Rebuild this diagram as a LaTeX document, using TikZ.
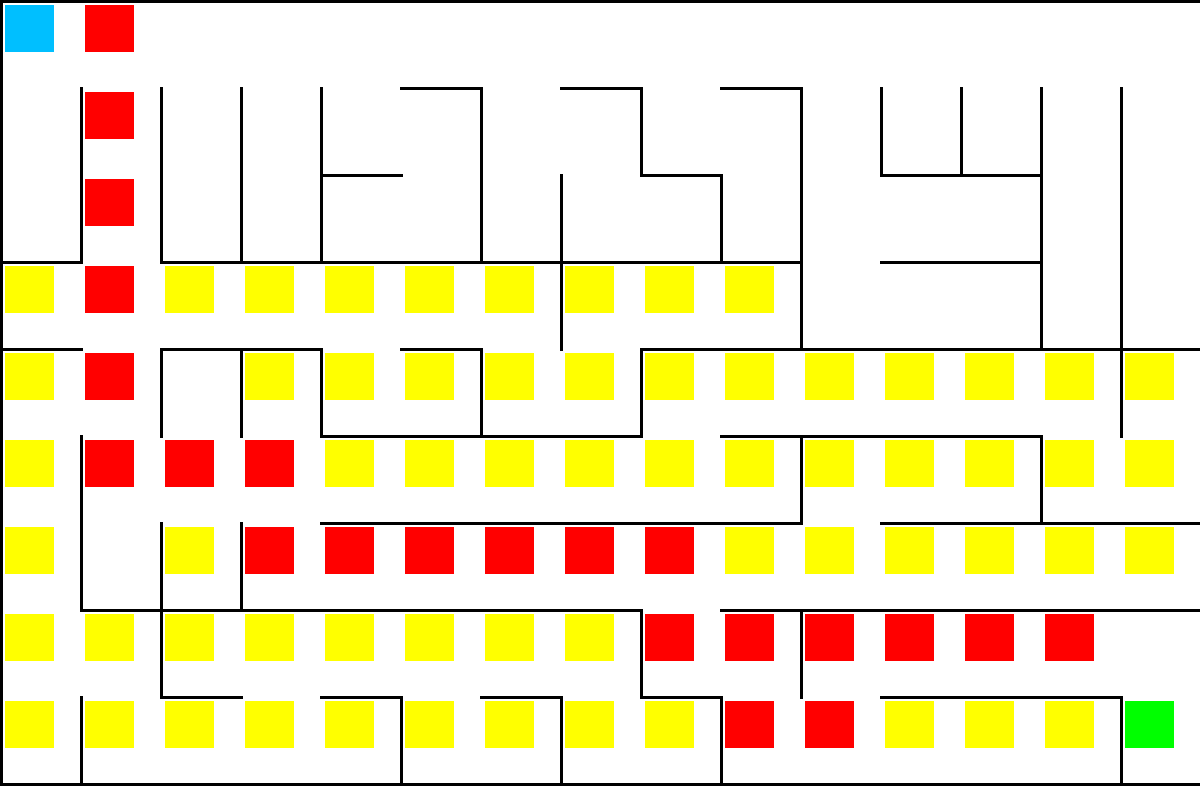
\documentclass[tikz,border=0pt]{standalone}
\usepackage{xcolor}
\usepackage{tikz}
\usetikzlibrary{calc}

\definecolor{startblue}{HTML}{00BFFF}
\definecolor{goalgreen}{HTML}{00FF00}
\definecolor{pathred}{HTML}{FF0000}
\definecolor{seenyellow}{HTML}{FFFF00}

% one coloured square inside grid cell (col,row)
\newcommand{\mazecell}[3]{\fill[#1] ($(#2,#3)+(5pt,-5pt)$) rectangle ++(49pt,-47pt);}

\begin{document}
\begin{tikzpicture}[
    x=80pt, y=-87pt,
    wall/.style={draw=black, line width=3pt, line cap=rect},
    cstart/.style={fill=startblue},
    cgoal/.style={fill=goalgreen},
    cpath/.style={fill=pathred},
    cseen/.style={fill=seenyellow}
]
    \useasboundingbox (0pt,0pt) rectangle (1200pt,-786pt);
    \clip (0pt,0pt) rectangle (1200pt,-786pt);
    \fill[white] (0pt,0pt) rectangle (1200pt,-786pt);

    % visited cells
    \foreach \c/\r in {0/3,2/3,3/3,4/3,5/3,6/3,7/3,8/3,9/3,
                       0/4,3/4,4/4,5/4,6/4,7/4,8/4,9/4,10/4,11/4,12/4,13/4,14/4,
                       0/5,4/5,5/5,6/5,7/5,8/5,9/5,10/5,11/5,12/5,13/5,14/5,
                       0/6,2/6,9/6,10/6,11/6,12/6,13/6,14/6,
                       0/7,1/7,2/7,3/7,4/7,5/7,6/7,7/7,
                       0/8,1/8,2/8,3/8,4/8,5/8,6/8,7/8,8/8,11/8,12/8,13/8}
        {\mazecell{cseen}{\c}{\r}}

    % solution path
    \foreach \c/\r in {1/0,1/1,1/2,1/3,1/4,1/5,2/5,3/5,
                       3/6,4/6,5/6,6/6,7/6,8/6,
                       8/7,9/7,10/7,11/7,12/7,13/7,9/8,10/8}
        {\mazecell{cpath}{\c}{\r}}

    \mazecell{cstart}{0}{0}
    \mazecell{cgoal}{14}{8}

    \begin{scope}[shift={(1.5pt,-1.5pt)}]
        % horizontal walls: row / from col / to col
        \foreach \r/\a/\b in {1/5/6,1/7/8,1/9/10,
                              2/4/5,2/8/9,2/11/13,
                              3/0/1,3/2/10,3/11/13,
                              4/0/1,4/2/4,4/5/6,4/8/15,
                              5/4/8,5/9/13,
                              6/4/10,6/11/15,
                              7/1/8,7/9/15,
                              8/2/3,8/4/5,8/6/7,8/8/9,8/11/14}
            {\draw[wall] (\a,\r) -- (\b,\r);}

        % vertical walls: col / from row / to row
        \foreach \c/\a/\b in {1/1/3,1/5/7,1/8/9,
                              2/1/3,2/4/5,2/6/8,
                              3/1/3,3/4/5,3/6/7,
                              4/1/3,4/4/5,
                              5/8/9,
                              6/1/3,6/4/5,
                              7/2/4,7/8/9,
                              8/1/2,8/4/5,8/7/8,
                              9/2/3,9/8/9,
                              10/1/4,10/5/6,10/7/8,
                              11/1/2,12/1/2,
                              13/1/4,13/5/6,
                              14/1/5,14/8/9}
            {\draw[wall] (\c,\a) -- (\c,\b);}

        % outer border
        \draw[wall] (0,0) rectangle (15,9);
    \end{scope}
\end{tikzpicture}
\end{document}
